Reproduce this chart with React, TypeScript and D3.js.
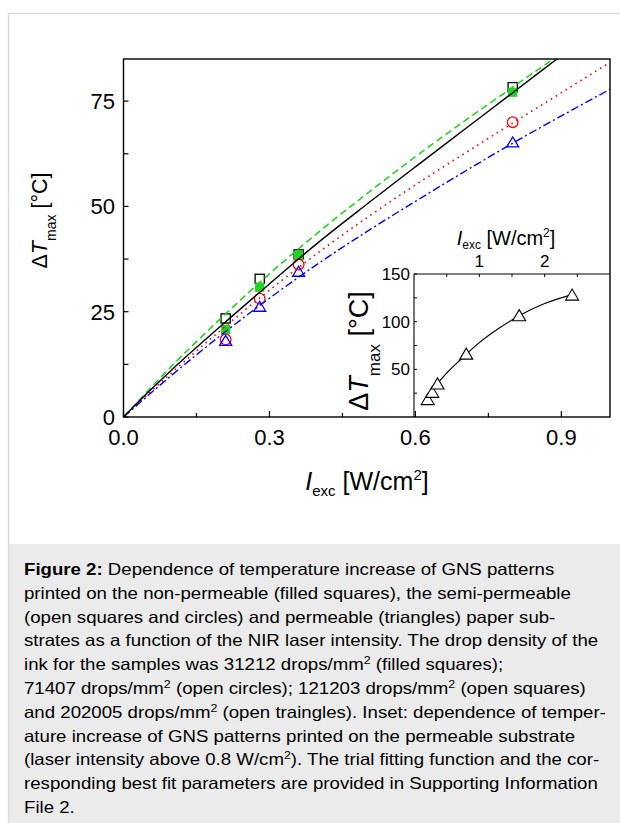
import React from "react";
import * as d3 from "d3";

// ---------- data ----------
const xMain = [0.21, 0.28, 0.36, 0.8];
const filledSquares = [20.8, 30.8, 38.4, 77.1];
const openSquares = [23.4, 32.8, 38.6, 78.3];
const openCircles = [18.4, 28.1, 36.2, 70.0];
const openTriangles = [18.2, 26.3, 34.6, 65.3];

const fitGreen: [number, number][] = [[0, 0], [0.05, 6.2], [0.1, 12.2], [0.2, 23.4], [0.3, 34], [0.4, 43.8], [0.5, 53], [0.6, 61.8], [0.7, 70.2], [0.8, 78.3], [0.9, 86.3]];
const fitBlack: [number, number][] = [[0, 0], [0.05, 5.8], [0.1, 11.3], [0.2, 21.6], [0.3, 31.6], [0.4, 41.4], [0.5, 50.5], [0.6, 59.4], [0.7, 68.2], [0.8, 77], [0.9, 85.8]];
const fitRed: [number, number][] = [[0, 0], [0.1, 10.6], [0.2, 20.6], [0.3, 30.1], [0.4, 39], [0.5, 47.3], [0.6, 55.1], [0.7, 62.5], [0.8, 69.8], [0.9, 77.0], [1.0, 84.2]];
const fitBlue: [number, number][] = [[0, 0], [0.1, 10], [0.2, 19.4], [0.3, 28.2], [0.4, 36.4], [0.5, 44], [0.6, 51.2], [0.7, 58.2], [0.8, 65], [0.9, 71.5], [1.0, 77.8]];

const xTicksMain = [0, 0.3, 0.6, 0.9];
const xTickLabelsMain = ["0.0", "0.3", "0.6", "0.9"];
const xMinorMain = [0.15, 0.45, 0.75];
const yTicksMain = [0, 25, 50, 75];
const yMinorMain = [12.5, 37.5, 62.5];

const insetX = [0.21, 0.28, 0.36, 0.8, 1.61, 2.42];
const insetY = [18.8, 26.4, 35.2, 66.5, 106.8, 128.4];
const insetFit: [number, number][] = [[0.36, 35.2], [0.5, 46], [0.71, 60], [1.0, 78], [1.3, 93], [1.61, 106.3], [2.0, 119], [2.42, 128.4]];
const insetXTicks = [1, 2];
const insetXMinor = [0.5, 1.5, 2.5];
const insetYTicks = [50, 100, 150];
const insetYMinor = [25, 75, 125];

const captionLines = [
  "printed on the non-permeable (filled squares), the semi-permeable",
  "(open squares and circles) and permeable (triangles) paper sub-",
  "strates as a function of the NIR laser intensity. The drop density of the",
];

const FONT = "'Liberation Sans', Arial, Helvetica, sans-serif";

export default function App() {
  // main plot geometry
  const L = 123.5, R = 610, T = 59, B = 417;
  const x = d3.scaleLinear().domain([0, 1]).range([L, R]);
  const y = d3.scaleLinear().domain([0, 85]).range([B, T]);

  // inset geometry
  const iL = 414, iR = 610, iT = 274, iB = 417;
  const ix = d3.scaleLinear().domain([0, 3]).range([iL, iR]);
  const iy = d3.scaleLinear().domain([0, 150]).range([iB, iT]);

  const line = d3.line<[number, number]>().x(d => x(d[0])).y(d => y(d[1])).curve(d3.curveMonotoneX);
  const iline = d3.line<[number, number]>().x(d => ix(d[0])).y(d => iy(d[1])).curve(d3.curveMonotoneX);

  const tri = (cx: number, cy: number, w: number, h: number) =>
    `M${cx - w / 2},${cy + h / 2}L${cx + w / 2},${cy + h / 2}L${cx},${cy - h / 2}Z`;

  const green = "#22d422";
  const lw = 1.4;
  const capY0 = 575;
  const capDy = 23.8;
  const capFs = 16.5;

  return (
    <svg width={620} height={823} style={{ position: "absolute", left: 0, top: 0, background: "#fff" }} fontFamily={FONT}>
      {/* page frame */}
      <rect x={9} y={544} width={611} height={279} fill="#ebebeb" />
      <line x1={8} x2={620} y1={13.5} y2={13.5} stroke="#d9d9d9" strokeWidth={1.5} />
      <line x1={8.5} x2={8.5} y1={13} y2={823} stroke="#d9d9d9" strokeWidth={1.5} />

      <defs>
        <clipPath id="mainClip">
          <rect x={L} y={T} width={R - L} height={B - T} />
        </clipPath>
      </defs>

      {/* main markers */}
      <g>
        {xMain.map((xv, i) => (
          <rect key={"os" + i} x={x(xv) - 4.6} y={y(openSquares[i]) - 4.6} width={9.2} height={9.2} fill="none" stroke="#000" strokeWidth={1.3} />
        ))}
        {xMain.map((xv, i) => (
          <rect key={"fs" + i} x={x(xv) - 4.6} y={y(filledSquares[i]) - 4.6} width={9.2} height={9.2} fill={green} />
        ))}
        {xMain.map((xv, i) => (
          <circle key={"oc" + i} cx={x(xv)} cy={y(openCircles[i])} r={5.3} fill="none" stroke="#ff0000" strokeWidth={1.3} />
        ))}
        {xMain.map((xv, i) => (
          <path key={"ot" + i} d={tri(x(xv), y(openTriangles[i]), 12, 10)} fill="none" stroke="#0000ff" strokeWidth={1.3} />
        ))}
      </g>

      {/* fit curves */}
      <g clipPath="url(#mainClip)" fill="none">
        <path d={line(fitRed) || ""} stroke="#ff0000" strokeWidth={1.6} strokeDasharray="1.6,4.2" />
        <path d={line(fitBlue) || ""} stroke="#0000ff" strokeWidth={lw} strokeDasharray="8,3,2,3" />
        <path d={line(fitGreen) || ""} stroke={green} strokeWidth={1.6} strokeDasharray="7,4" />
        <path d={line(fitBlack) || ""} stroke="#000" strokeWidth={lw} />
      </g>

      {/* inset */}
      <g>
        <line x1={iL} x2={iL} y1={iT} y2={iB} stroke="#000" strokeWidth={1.1} />
        <line x1={iL} x2={iR} y1={iT} y2={iT} stroke="#000" strokeWidth={1.1} />
        {insetYTicks.concat(insetYMinor).map(t => (
          <line key={"iyt" + t} x1={iL} x2={iL + 3} y1={iy(t)} y2={iy(t)} stroke="#000" strokeWidth={1} />
        ))}
        {insetXTicks.concat(insetXMinor).map(t => (
          <line key={"ixt" + t} x1={ix(t)} x2={ix(t)} y1={iT} y2={iT + 3} stroke="#000" strokeWidth={1} />
        ))}
        {insetYTicks.map(t => (
          <text key={"iyl" + t} x={iL - 4} y={iy(t)} dy="0.36em" textAnchor="end" fontSize={17}>{t}</text>
        ))}
        {insetXTicks.map(t => (
          <text key={"ixl" + t} x={ix(t)} y={266.5} textAnchor="middle" fontSize={17}>{t}</text>
        ))}
        <path d={iline(insetFit) || ""} fill="none" stroke="#000" strokeWidth={1.2} />
        {insetX.map((xv, i) => (
          <path key={"it" + i} d={tri(ix(xv), iy(insetY[i]), 13, 11)} fill="#fff" stroke="#000" strokeWidth={1.1} />
        ))}
        {/* inset x title */}
        <text x={506} y={245} textAnchor="middle" fontSize={20}>
          <tspan fontStyle="italic">I</tspan>
          <tspan fontSize={12} dy={4}>exc</tspan>
          <tspan dy={-4}> [W/cm</tspan>
          <tspan fontSize={12} dy={-8}>2</tspan>
          <tspan dy={8}>]</tspan>
        </text>
        {/* inset y title */}
        <text transform="translate(368,351) rotate(-90)" textAnchor="middle" fontSize={27}>
          <tspan>Δ</tspan>
          <tspan fontStyle="italic">T</tspan>
          <tspan fontSize={17} dy={12}>max</tspan>
          <tspan dy={-12}> [°C]</tspan>
        </text>
      </g>

      {/* main frame */}
      <rect x={L} y={T} width={R - L} height={B - T} fill="none" stroke="#000" strokeWidth={1.4} />
      {xTicksMain.map(t => (
        <line key={"xt" + t} x1={x(t)} x2={x(t)} y1={B} y2={B - 6} stroke="#000" strokeWidth={1.2} />
      ))}
      {xMinorMain.map(t => (
        <line key={"xm" + t} x1={x(t)} x2={x(t)} y1={B} y2={B - 4} stroke="#000" strokeWidth={1.2} />
      ))}
      {yTicksMain.map(t => (
        <line key={"yt" + t} x1={L} x2={L + 5} y1={y(t)} y2={y(t)} stroke="#000" strokeWidth={1.2} />
      ))}
      {yMinorMain.map(t => (
        <line key={"ym" + t} x1={L} x2={L + 5} y1={y(t)} y2={y(t)} stroke="#000" strokeWidth={1.2} />
      ))}
      {xTicksMain.map((t, i) => (
        <text key={"xl" + t} x={x(t)} y={445} textAnchor="middle" fontSize={22}>{xTickLabelsMain[i]}</text>
      ))}
      {yTicksMain.map(t => (
        <text key={"yl" + t} x={115} y={y(t)} dy="0.36em" textAnchor="end" fontSize={22}>{t}</text>
      ))}

      {/* main x title */}
      <text x={367} y={490} textAnchor="middle" fontSize={25}>
        <tspan fontStyle="italic">I</tspan>
        <tspan fontSize={15} dy={6}>exc</tspan>
        <tspan dy={-6}> [W/cm</tspan>
        <tspan fontSize={15} dy={-10}>2</tspan>
        <tspan dy={10}>]</tspan>
      </text>
      {/* main y title */}
      <text transform="translate(47,220.5) rotate(-90)" textAnchor="middle" fontSize={21.5}>
        <tspan>Δ</tspan>
        <tspan fontStyle="italic">T</tspan>
        <tspan fontSize={14} dy={9}>max</tspan>
        <tspan dy={-9}> [°C]</tspan>
      </text>

      {/* caption */}
      <g fontSize={capFs} fill="#000" transform="translate(24,0) scale(1.13,1)">
        <text x={0} y={capY0}>
          <tspan fontWeight="bold">Figure 2:</tspan>
          <tspan> Dependence of temperature increase of GNS patterns</tspan>
        </text>
        {captionLines.map((s, i) => (
          <text key={"cap" + i} x={0} y={capY0 + capDy * (i + 1)}>{s}</text>
        ))}
        <text x={0} y={capY0 + capDy * 4}>
          ink for the samples was 31212 drops/mm<tspan fontSize={11} dy={-6}>2</tspan><tspan dy={6}> (filled squares);</tspan>
        </text>
        <text x={0} y={capY0 + capDy * 5}>
          71407 drops/mm<tspan fontSize={11} dy={-6}>2</tspan><tspan dy={6}> (open circles); 121203 drops/mm</tspan><tspan fontSize={11} dy={-6}>2</tspan><tspan dy={6}> (open squares)</tspan>
        </text>
        <text x={0} y={capY0 + capDy * 6}>
          and 202005 drops/mm<tspan fontSize={11} dy={-6}>2</tspan><tspan dy={6}> (open traingles). Inset: dependence of temper-</tspan>
        </text>
        <text x={0} y={capY0 + capDy * 7}>ature increase of GNS patterns printed on the permeable substrate</text>
        <text x={0} y={capY0 + capDy * 8}>
          (laser intensity above 0.8 W/cm<tspan fontSize={11} dy={-6}>2</tspan><tspan dy={6}>). The trial fitting function and the cor-</tspan>
        </text>
        <text x={0} y={capY0 + capDy * 9}>responding best fit parameters are provided in Supporting Information</text>
        <text x={0} y={capY0 + capDy * 10}>File 2.</text>
      </g>
    </svg>
  );
}
